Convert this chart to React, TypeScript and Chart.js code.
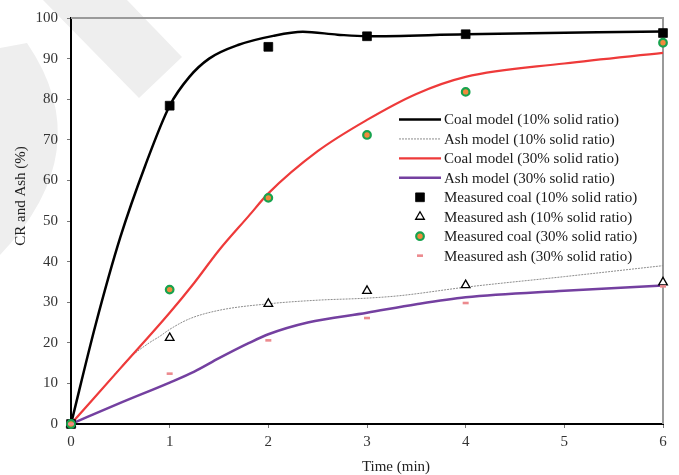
import React, { useEffect, useRef } from 'react';
import { Chart, registerables } from 'chart.js';

Chart.register(...registerables);

const FONT = '"Liberation Serif", "Times New Roman", serif';

// ---- data ----
const timeMeasured = [0, 1, 2, 3, 4, 6];
const measuredCoal10 = [0, 78.4, 92.9, 95.5, 96.0, 96.3];
const measuredAsh10 = [0, 21.2, 29.6, 32.8, 34.2, 34.9];
const measuredCoal30 = [0, 33.1, 55.7, 71.2, 81.8, 93.9];
const measuredAsh30 = [0, 12.4, 20.6, 26.1, 29.8, 33.9];

const coal10ModelX = [0, 0.25, 0.5, 0.75, 1, 1.2, 1.4, 1.7, 2.05, 2.35, 2.7, 3, 4, 6];
const coal10ModelY = [0, 24.5, 46, 63.5, 78.4, 85.5, 90, 93.4, 95.6, 96.6, 95.9, 95.5, 96, 96.7];

const ash10ModelX = [0, 0.3, 0.6, 0.8, 0.9, 1, 1.2, 1.5, 2, 2.5, 3, 3.33, 4, 5, 6];
const ash10ModelY = [0, 8.2, 16.4, 20.1, 21.6, 23.3, 25.9, 28, 29.6, 30.5, 31, 31.6, 33.7, 36.3, 39];

const coal30ModelX = [0, 0.5, 1, 1.25, 1.5, 1.8, 2, 2.5, 3, 3.5, 4, 5, 6];
const coal30ModelY = [0, 13.7, 27.4, 34.8, 42.8, 51.2, 56.8, 67.2, 74.9, 81.3, 85.5, 88.8, 91.4];

const ash30ModelX = [0, 0.5, 1, 1.25, 1.5, 1.8, 2, 2.4, 3, 3.5, 4, 5, 6];
const ash30ModelY = [0, 5.2, 10.2, 12.9, 16.2, 19.9, 22.1, 25, 27.4, 29.5, 31.2, 32.8, 34.1];

const xTicks = [0, 1, 2, 3, 4, 5, 6];
const yTicks = [0, 10, 20, 30, 40, 50, 60, 70, 80, 90, 100];

const labels = [
  'Coal model (10% solid ratio)',
  'Ash model (10% solid ratio)',
  'Coal model (30% solid ratio)',
  'Ash model (30% solid ratio)',
  'Measured coal (10% solid ratio)',
  'Measured ash (10% solid ratio)',
  'Measured coal (30% solid ratio)',
  'Measured ash (30% solid ratio)',
];

const xTitle = 'Time (min)';
const yTitle = 'CR and Ash (%)';

function pts(xs: number[], ys: number[]) {
  return xs.map((x, i) => ({ x, y: ys[i] }));
}

function drawMarker(ctx: CanvasRenderingContext2D, ds: any, x: number, y: number) {
  const r = ds.pointRadius;
  ctx.save();
  ctx.lineWidth = ds.borderWidth;
  ctx.strokeStyle = ds.borderColor;
  ctx.fillStyle = ds.backgroundColor;
  ctx.beginPath();
  if (ds.pointStyle === 'rect') {
    const s = Math.SQRT1_2 * r;
    ctx.rect(x - s, y - s, 2 * s, 2 * s);
    ctx.fill();
    if (ds.borderWidth) ctx.stroke();
  } else if (ds.pointStyle === 'triangle') {
    let rad = 0;
    ctx.moveTo(x + Math.sin(rad) * r, y - Math.cos(rad) * r);
    rad += (2 * Math.PI) / 3;
    ctx.lineTo(x + Math.sin(rad) * r, y - Math.cos(rad) * r);
    rad += (2 * Math.PI) / 3;
    ctx.lineTo(x + Math.sin(rad) * r, y - Math.cos(rad) * r);
    ctx.closePath();
    ctx.fill();
    ctx.stroke();
  } else if (ds.pointStyle === 'circle') {
    ctx.arc(x, y, r, 0, Math.PI * 2);
    ctx.fill();
    ctx.stroke();
  } else if (ds.pointStyle === 'line') {
    ctx.moveTo(x - r, y);
    ctx.lineTo(x + r, y);
    ctx.stroke();
  }
  ctx.restore();
}

const watermarkPlugin = {
  id: 'watermark',
  beforeDraw(chart: any) {
    const ctx = chart.ctx;
    ctx.save();
    ctx.fillStyle = '#eeeeee';
    ctx.beginPath();
    ctx.moveTo(43, 0);
    ctx.lineTo(127, 0);
    ctx.lineTo(182, 57);
    ctx.lineTo(139, 98);
    ctx.closePath();
    ctx.fill();
    ctx.beginPath();
    ctx.moveTo(0, 48);
    ctx.lineTo(27, 43);
    ctx.quadraticCurveTo(100, 150, 0, 255);
    ctx.closePath();
    ctx.fill();
    ctx.restore();
  },
};

const framePlugin = {
  id: 'frame',
  beforeDatasetsDraw(chart: any) {
    const { ctx, chartArea } = chart;
    ctx.save();
    ctx.strokeStyle = '#9a9a9a';
    ctx.lineWidth = 2;
    ctx.beginPath();
    ctx.moveTo(chartArea.left, chartArea.top);
    ctx.lineTo(chartArea.right, chartArea.top);
    ctx.lineTo(chartArea.right, chartArea.bottom);
    ctx.stroke();
    ctx.restore();
  },
};

const legendPlugin = {
  id: 'customLegend',
  afterDraw(chart: any) {
    const ctx = chart.ctx;
    const x0 = 399;
    const x1 = 441;
    const tx = 444;
    const y0 = 119.5;
    const dy = 19.45;
    ctx.save();
    ctx.font = `15px ${FONT}`;
    ctx.textBaseline = 'middle';
    ctx.textAlign = 'left';
    chart.data.datasets.forEach((ds: any, i: number) => {
      const y = y0 + i * dy;
      if (ds.showLine) {
        ctx.save();
        ctx.strokeStyle = ds.borderColor;
        ctx.lineWidth = ds.borderWidth;
        ctx.setLineDash(ds.borderDash || []);
        ctx.beginPath();
        ctx.moveTo(x0, y);
        ctx.lineTo(x1, y);
        ctx.stroke();
        ctx.restore();
      } else {
        drawMarker(ctx, ds, (x0 + x1) / 2, y);
      }
      ctx.fillStyle = '#1a1a1a';
      ctx.fillText(ds.label, tx, y + 1);
    });
    ctx.restore();
  },
};

const titlesPlugin = {
  id: 'axisTitles',
  afterDraw(chart: any) {
    const ctx = chart.ctx;
    ctx.save();
    ctx.font = `15px ${FONT}`;
    ctx.fillStyle = '#222';
    ctx.textAlign = 'center';
    ctx.textBaseline = 'middle';
    ctx.fillText(xTitle, 396, 467);
    ctx.translate(21.5, 196);
    ctx.rotate(-Math.PI / 2);
    ctx.fillText(yTitle, 0, 0);
    ctx.restore();
  },
};

export default function App() {
  const ref = useRef<HTMLCanvasElement | null>(null);

  useEffect(() => {
    if (!ref.current) return;
    const lineCommon = {
      showLine: true,
      pointRadius: 0,
      pointHoverRadius: 0,
      cubicInterpolationMode: 'monotone' as const,
      fill: false,
    };
    const chart = new Chart(ref.current, {
      type: 'scatter',
      data: {
        datasets: [
          {
            ...lineCommon,
            label: labels[0],
            data: pts(coal10ModelX, coal10ModelY),
            borderColor: '#000000',
            backgroundColor: '#000000',
            borderWidth: 2.5,
            order: 5,
          },
          {
            ...lineCommon,
            label: labels[1],
            data: pts(ash10ModelX, ash10ModelY),
            borderColor: '#8c8c8c',
            backgroundColor: '#8c8c8c',
            borderWidth: 1,
            borderDash: [2, 1],
            order: 8,
          },
          {
            ...lineCommon,
            label: labels[2],
            data: pts(coal30ModelX, coal30ModelY),
            borderColor: '#ee3a3a',
            backgroundColor: '#ee3a3a',
            borderWidth: 2.2,
            order: 6,
          },
          {
            ...lineCommon,
            label: labels[3],
            data: pts(ash30ModelX, ash30ModelY),
            borderColor: '#7440a0',
            backgroundColor: '#7440a0',
            borderWidth: 2.5,
            order: 7,
          },
          {
            label: labels[4],
            data: pts(timeMeasured, measuredCoal10),
            showLine: false,
            pointStyle: 'rect',
            pointRadius: 6.2,
            borderWidth: 0.8,
            borderColor: '#000000',
            backgroundColor: '#000000',
            clip: false,
            order: 4,
          },
          {
            label: labels[5],
            data: pts(timeMeasured, measuredAsh10),
            showLine: false,
            pointStyle: 'triangle',
            pointRadius: 5,
            borderWidth: 1.3,
            borderColor: '#000000',
            backgroundColor: '#ffffff',
            clip: false,
            order: 3,
          },
          {
            label: labels[6],
            data: pts(timeMeasured, measuredCoal30),
            showLine: false,
            pointStyle: 'circle',
            pointRadius: 3.8,
            borderWidth: 2.2,
            borderColor: '#17a34e',
            backgroundColor: '#f28a3c',
            clip: false,
            order: 2,
          },
          {
            label: labels[7],
            data: pts(timeMeasured, measuredAsh30),
            showLine: false,
            pointStyle: 'line',
            pointRadius: 3,
            borderWidth: 2.6,
            borderColor: '#ec8a8e',
            backgroundColor: '#ec8a8e',
            clip: false,
            order: 1,
          },
        ] as any,
      },
      options: {
        responsive: false,
        animation: false,
        devicePixelRatio: 1,
        events: [],
        layout: { padding: { top: 16, right: 16, left: 0, bottom: 0 } },
        plugins: {
          legend: { display: false },
          tooltip: { enabled: false },
          title: { display: false },
        },
        scales: {
          x: {
            type: 'linear',
            min: 0,
            max: 6,
            afterFit: (s: any) => {
              s.height = 51;
            },
            afterBuildTicks: (s: any) => {
              s.ticks = xTicks.map((v) => ({ value: v }));
            },
            ticks: {
              padding: 5,
              color: '#333333',
              font: { family: FONT, size: 15 },
              maxRotation: 0,
            },
            grid: {
              drawOnChartArea: false,
              drawTicks: true,
              tickLength: 4,
              color: '#777777',
            },
            border: { display: true, color: '#000000', width: 2 },
          },
          y: {
            type: 'linear',
            min: 0,
            max: 100,
            afterFit: (s: any) => {
              s.width = 71;
            },
            afterBuildTicks: (s: any) => {
              s.ticks = yTicks.map((v) => ({ value: v }));
            },
            ticks: {
              padding: 9,
              color: '#333333',
              font: { family: FONT, size: 15 },
            },
            grid: {
              drawOnChartArea: false,
              drawTicks: true,
              tickLength: 4,
              color: '#777777',
            },
            border: { display: true, color: '#000000', width: 2 },
          },
        },
      } as any,
      plugins: [watermarkPlugin, framePlugin, legendPlugin, titlesPlugin],
    });
    return () => chart.destroy();
  }, []);

  return (
    <div style={{ position: 'fixed', left: 0, top: 0, width: 679, height: 475, background: '#ffffff' }}>
      <canvas ref={ref} width={679} height={475} style={{ width: 679, height: 475, display: 'block' }} />
    </div>
  );
}
